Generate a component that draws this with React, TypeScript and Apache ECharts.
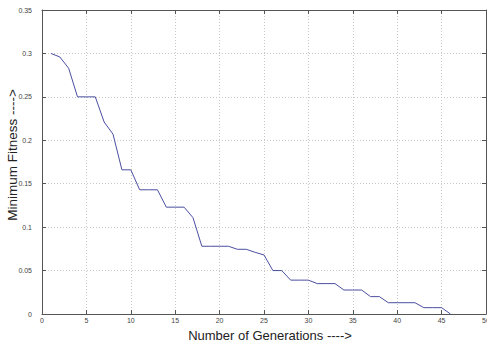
import React, { useEffect, useRef } from "react";
import * as echarts from "echarts";

const generations = [
  1, 2, 3, 4, 5, 6, 7, 8, 9, 10, 11, 12, 13, 14, 15, 16, 17, 18, 19, 20, 21, 22, 23,
  24, 25, 26, 27, 28, 29, 30, 31, 32, 33, 34, 35, 36, 37, 38, 39, 40, 41, 42, 43, 44,
  45, 46,
];
const minFitness = [
  0.3, 0.296, 0.283, 0.25, 0.25, 0.25, 0.221, 0.207, 0.166, 0.166, 0.143, 0.143, 0.143,
  0.123, 0.123, 0.123, 0.111, 0.078, 0.078, 0.078, 0.078, 0.0745, 0.0745, 0.071, 0.068,
  0.05, 0.05, 0.039, 0.039, 0.039, 0.035, 0.035, 0.035, 0.0276, 0.0276, 0.0276, 0.02,
  0.02, 0.013, 0.013, 0.013, 0.013, 0.0073, 0.0073, 0.0073, 0,
];
const xTitle = "Number of Generations ---->";
const yTitle = "Minimum Fitness ---->";

export default function App() {
  const ref = useRef<HTMLDivElement>(null);
  useEffect(() => {
    if (!ref.current) return;
    const chart = echarts.init(ref.current, null, { renderer: "svg" });
    const axisLine = { show: true, onZero: false, lineStyle: { color: "#555", width: 1 } };
    const tick = { show: true, inside: true, length: 4, lineStyle: { color: "#555" } };
    const split = { show: true, lineStyle: { color: "#c8c8c8", type: [1, 2] as any, width: 1 } };
    const label = { color: "#444", fontSize: 7, fontFamily: "Liberation Sans, Arial, sans-serif" };
    chart.setOption({
      animation: false,
      backgroundColor: "#fff",
      grid: { left: 42, right: 1, top: 10, bottom: 29, outerBoundsMode: "none", containLabel: false },
      xAxis: [
        {
          type: "value",
          min: 0,
          max: 50,
          interval: 5,
          position: "bottom",
          axisLine,
          axisTick: tick,
          splitLine: split,
          axisLabel: { ...label, margin: 3 },
          name: xTitle,
          nameLocation: "middle",
          nameGap: 15,
          nameMoveOverlap: false,
          nameTextStyle: { color: "#222", fontSize: 13, fontFamily: "Liberation Sans, Arial, sans-serif", padding: [0, 0, 0, 12], verticalAlign: "top" },
        },
        {
          type: "value",
          min: 0,
          max: 50,
          interval: 5,
          position: "top",
          axisLine,
          axisTick: tick,
          splitLine: { show: false },
          axisLabel: { show: false },
        },
      ],
      yAxis: [
        {
          type: "value",
          min: 0,
          max: 0.35,
          interval: 0.05,
          position: "left",
          axisLine,
          axisTick: tick,
          splitLine: split,
          axisLabel: { ...label, margin: 10 },
          name: yTitle,
          nameLocation: "middle",
          nameGap: 30,
          nameMoveOverlap: false,
          nameRotate: 90,
          nameTextStyle: { color: "#222", fontSize: 13.5, fontFamily: "Liberation Sans, Arial, sans-serif", padding: [0, 0, 0, 14], verticalAlign: "middle" },
        },
        {
          type: "value",
          min: 0,
          max: 0.35,
          interval: 0.05,
          position: "right",
          axisLine,
          axisTick: tick,
          splitLine: { show: false },
          axisLabel: { show: false },
        },
      ],
      series: [
        {
          type: "line",
          data: generations.map((g, i) => [g, minFitness[i]]),
          showSymbol: false,
          lineStyle: { color: "#4b4ea0", width: 1 },
          xAxisIndex: 0,
          yAxisIndex: 0,
        },
      ],
    });
    return () => chart.dispose();
  }, []);
  return (
    <div
      ref={ref}
      style={{ position: "fixed", left: 0, top: 0, width: 487, height: 343, background: "#fff" }}
    />
  );
}
